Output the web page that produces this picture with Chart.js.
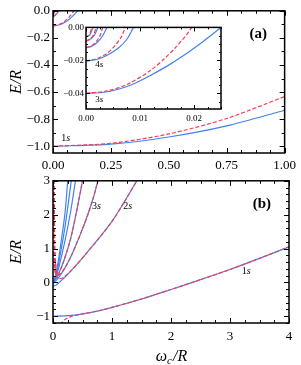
<!DOCTYPE html>
<html>
<head>
<meta charset="utf-8">
<script src="https://cdn.jsdelivr.net/npm/chart.js@4.4.1/dist/chart.umd.min.js"></script>
<style>
  body { margin: 0; background: #fff; }
  canvas { position: absolute; }
</style>
</head>
<body>
<canvas id="top" width="301" height="180" style="left:0;top:0"></canvas>
<canvas id="inset" width="170" height="105" style="left:56px;top:20px"></canvas>
<canvas id="bottom" width="301" height="195" style="left:0;top:170px"></canvas>
<script>
// ---- panel (a): weak field, exact (blue) vs perturbative (red) ----
const a1sW = [0, 0.25, 0.5, 0.75, 1];
const a1sE = [-1, -0.985, -0.932, -0.85, -0.734];
const a1sPE = [-1, -0.978, -0.909, -0.795, -0.633];

const a2sW = [0, 0.025, 0.05, 0.075, 0.1, 0.115];
const a2sE = [-0.111, -0.105, -0.087, -0.056, -0.012, 0.02];
const a2sPW = [0, 0.025, 0.05, 0.07, 0.09, 0.1];
const a2sPE = [-0.111, -0.103, -0.078, -0.046, 0, 0.03];

const a3sW = [0, 0.003, 0.006, 0.009, 0.012, 0.015, 0.018, 0.021, 0.025, 0.027];
const a3sE = [-0.04, -0.0395, -0.0375, -0.034, -0.029, -0.0235, -0.0172, -0.0102, 0, 0.005];
const a3sPW = [0, 0.004, 0.008, 0.012, 0.0145, 0.0165, 0.0185, 0.0196, 0.021];
const a3sPE = [-0.04, -0.0385, -0.034, -0.026, -0.019, -0.0125, -0.005, 0, 0.005];

const a4sW = [0, 0.002, 0.004, 0.006, 0.0075, 0.0088, 0.0095];
const a4sE = [-0.0204, -0.0195, -0.0168, -0.0125, -0.0075, 0, 0.004];
const a4sPW = [0, 0.002, 0.004, 0.0055, 0.0065, 0.0073, 0.008];
const a4sPE = [-0.0204, -0.019, -0.0155, -0.0105, -0.006, 0, 0.005];

const a5sW = [0, 0.001, 0.002, 0.003, 0.0039, 0.0043];
const a5sE = [-0.0123, -0.0115, -0.0093, -0.0055, 0, 0.003];
const a5sPW = [0, 0.001, 0.002, 0.0026, 0.0031, 0.0035];
const a5sPE = [-0.0123, -0.0112, -0.0082, -0.005, 0, 0.004];

const a6sW = [0, 0.001, 0.0016, 0.0022, 0.0025];
const a6sE = [-0.0083, -0.0068, -0.0045, 0, 0.003];
const a6sPW = [0, 0.0008, 0.0014, 0.0019, 0.0022];
const a6sPE = [-0.0083, -0.007, -0.0045, 0, 0.003];

const a7sW = [0, 0.0007, 0.0013, 0.0016];
const a7sE = [-0.0059, -0.0045, 0, 0.003];
const a7sPW = [0, 0.0006, 0.0011, 0.0014];
const a7sPE = [-0.0059, -0.0046, 0, 0.003];

// ---- panel (b): strong field, exact (blue) vs high-field approx (red) ----
const b1sW = [0, 0.25, 0.5, 0.75, 1, 1.5, 2, 2.5, 3, 3.5, 4];
const b1sE = [-1, -0.985, -0.93, -0.85, -0.74, -0.49, -0.21, 0.08, 0.38, 0.71, 1.05];
const b1sPW = [0.12, 0.2, 0.3, 0.4, 0.5, 0.75, 1, 1.5, 2, 2.5, 3, 3.5, 4];
const b1sPE = [-1.25, -1.1, -1.01, -0.97, -0.93, -0.85, -0.74, -0.49, -0.21, 0.08, 0.38, 0.71, 1.05];

const b2sW = [0, 0.05, 0.106, 0.2, 0.3, 0.45, 0.6, 0.8, 1.0, 1.2, 1.42, 1.5];
const b2sE = [-0.111, -0.085, 0, 0.15, 0.33, 0.62, 0.93, 1.35, 1.8, 2.35, 3.0, 3.25];
const b2sPW = [0.04, 0.06, 0.09, 0.15, 0.25, 0.3, 0.45, 0.6, 0.8, 1.0, 1.2, 1.42, 1.5];
const b2sPE = [0.6, 0.22, 0.12, 0.12, 0.25, 0.33, 0.62, 0.93, 1.35, 1.8, 2.35, 3.0, 3.25];

const b3sW = [0, 0.025, 0.1, 0.2, 0.3, 0.4, 0.5, 0.6, 0.7, 0.76, 0.8];
const b3sE = [-0.04, 0, 0.15, 0.42, 0.75, 1.15, 1.58, 2.05, 2.6, 3.0, 3.25];
const b3sPW = [0.02, 0.03, 0.05, 0.08, 0.12, 0.2, 0.3, 0.4, 0.5, 0.6, 0.7, 0.76, 0.8];
const b3sPE = [3.2, 1.2, 0.45, 0.2, 0.25, 0.42, 0.75, 1.15, 1.58, 2.05, 2.6, 3.0, 3.25];

const b4sW = [0, 0.009, 0.05, 0.1, 0.2, 0.3, 0.4, 0.5, 0.53];
const b4sE = [-0.02, 0, 0.1, 0.27, 0.72, 1.3, 2.1, 3.0, 3.3];
const b4sPW = [0.012, 0.02, 0.035, 0.06, 0.1, 0.2, 0.3, 0.4, 0.5, 0.53];
const b4sPE = [3.2, 1.2, 0.45, 0.22, 0.27, 0.72, 1.3, 2.1, 3.0, 3.3];

const b5sW = [0, 0.004, 0.05, 0.1, 0.2, 0.3, 0.38, 0.4];
const b5sE = [-0.012, 0, 0.15, 0.45, 1.2, 2.1, 3.0, 3.2];
const b5sPW = [0.008, 0.015, 0.03, 0.05];
const b5sPE = [3.2, 1.0, 0.35, 0.2];

const b6sW = [0, 0.0022, 0.05, 0.1, 0.2, 0.31, 0.33];
const b6sE = [-0.008, 0, 0.2, 0.6, 1.6, 3.0, 3.25];

const b7sW = [0, 0.0013, 0.05, 0.1, 0.2, 0.25, 0.27];
const b7sE = [-0.006, 0, 0.25, 0.75, 2.0, 3.0, 3.4];

// tick labels
const aXTicks = [0, 0.25, 0.5, 0.75, 1];
const aYTicks = [-1, -0.8, -0.6, -0.4, -0.2, 0];
const inXTicks = [0, 0.01, 0.02];
const inYTicks = [-0.04, -0.02, 0];
const bXTicks = [0, 1, 2, 3, 4];
const bYTicks = [-1, 0, 1, 2, 3];

const blue = '#4282ec';
const red = '#f23c58';
const serif = "'Liberation Serif', 'DejaVu Serif', serif";

function pts(w, e) {
  return w.map(function (x, i) { return {x: x, y: e[i]}; });
}
function exact(w, e) {
  return {data: pts(w, e), borderColor: blue, borderWidth: 1.2, pointRadius: 0, tension: 0.3, fill: false};
}
function approx(w, e) {
  return {data: pts(w, e), borderColor: red, borderWidth: 1.2, borderDash: [4, 2], pointRadius: 0, tension: 0.3, fill: false};
}
function minus(s) { return s.replace('-', '\u2212'); }

// weak field curves, reused by the main panel and the inset
// (first dataset is drawn on top, so the red ones go first)
function weakSets() {
  return [
    approx(a1sW, a1sPE), approx(a2sPW, a2sPE), approx(a3sPW, a3sPE), approx(a4sPW, a4sPE),
    approx(a5sPW, a5sPE), approx(a6sPW, a6sPE), approx(a7sPW, a7sPE),
    exact(a1sW, a1sE), exact(a2sW, a2sE), exact(a3sW, a3sE), exact(a4sW, a4sE),
    exact(a5sW, a5sE), exact(a6sW, a6sE), exact(a7sW, a7sE)
  ];
}

// box with inward major / minor ticks on all four sides, plus text labels
const frame = {
  id: 'frame',
  beforeDatasetsDraw(chart, args, o) {
    if (!o.white) return;
    const a = chart.chartArea;
    chart.ctx.save();
    chart.ctx.fillStyle = '#fff';
    chart.ctx.fillRect(a.left, a.top, a.right - a.left, a.bottom - a.top);
    chart.ctx.restore();
  },
  afterDatasetsDraw(chart, args, o) {
    const ctx = chart.ctx, a = chart.chartArea;
    const sx = chart.scales.x, sy = chart.scales.y;
    ctx.save();
    ctx.strokeStyle = '#000';
    ctx.lineWidth = 1;
    ctx.beginPath();
    function tickX(v, len) {
      const p = Math.round(sx.getPixelForValue(v)) + 0.5;
      ctx.moveTo(p, a.bottom); ctx.lineTo(p, a.bottom - len);
      ctx.moveTo(p, a.top); ctx.lineTo(p, a.top + len);
    }
    function tickY(v, len) {
      const p = Math.round(sy.getPixelForValue(v)) + 0.5;
      ctx.moveTo(a.left, p); ctx.lineTo(a.left + len, p);
      ctx.moveTo(a.right, p); ctx.lineTo(a.right - len, p);
    }
    for (let v = sx.min; v <= sx.max + 1e-9; v += o.xMinor) tickX(v, o.minor);
    for (let v = o.yStart; v <= sy.max + 1e-9; v += o.yMinor) tickY(v, o.minor);
    sx.ticks.forEach(function (t) { tickX(t.value, o.major); });
    sy.ticks.forEach(function (t) { tickY(t.value, o.major); });
    ctx.stroke();
    ctx.lineWidth = 1.5;
    ctx.strokeRect(a.left, a.top, a.right - a.left, a.bottom - a.top);

    // state labels like "1s"
    ctx.fillStyle = '#000';
    ctx.textBaseline = 'middle';
    (o.notes || []).forEach(function (n) {
      const x = sx.getPixelForValue(n.x), y = sy.getPixelForValue(n.y);
      ctx.font = n.size + 'px ' + serif;
      ctx.fillText(n.num, x, y);
      const w = ctx.measureText(n.num).width;
      ctx.font = 'italic ' + n.size + 'px ' + serif;
      ctx.fillText('s', x + w, y);
    });
    if (o.tag) {
      ctx.font = 'bold 15px ' + serif;
      ctx.textAlign = 'center';
      ctx.fillText(o.tag.text, sx.getPixelForValue(o.tag.x), sy.getPixelForValue(o.tag.y));
    }
    ctx.restore();
  },
  afterDraw(chart, args, o) {
    const ctx = chart.ctx, a = chart.chartArea;
    ctx.save();
    ctx.fillStyle = '#000';
    ctx.textBaseline = 'middle';
    ctx.textAlign = 'center';
    if (o.yTitle) {
      ctx.translate(17, (a.top + a.bottom) / 2);
      ctx.rotate(-Math.PI / 2);
      ctx.font = 'italic 16px ' + serif;
      ctx.fillText('E/R', 0, 0);
      ctx.setTransform(1, 0, 0, 1, 0, 0);
    }
    if (o.xTitle) {
      // omega with subscript c, over R
      const y = o.xTitle;
      const cx = (a.left + a.right) / 2;
      ctx.textAlign = 'left';
      ctx.font = 'italic 16px ' + serif;
      const w1 = ctx.measureText('\u03c9').width;
      ctx.font = 'italic 11px ' + serif;
      const w2 = ctx.measureText('c').width;
      ctx.font = 'italic 16px ' + serif;
      const w3 = ctx.measureText('/R').width;
      let x = cx - (w1 + w2 + w3) / 2;
      ctx.fillText('\u03c9', x, y);
      ctx.font = 'italic 11px ' + serif;
      ctx.fillText('c', x + w1, y + 4);
      ctx.font = 'italic 16px ' + serif;
      ctx.fillText('/R', x + w1 + w2 + 1, y);
    }
    ctx.restore();
  }
};

function scales(xr, yr, xt, yt, xfmt, yfmt, xh, yw, font, xpad, ypad) {
  return {
    x: {
      type: 'linear', min: xr[0], max: xr[1],
      grid: {display: false, drawTicks: false}, border: {display: false},
      afterBuildTicks: function (s) { s.ticks = xt.map(function (v) { return {value: v}; }); },
      afterFit: function (s) { s.height = xh; },
      ticks: {color: '#000', font: {family: serif, size: font}, padding: xpad, autoSkip: false, maxRotation: 0,
        callback: function (v) { return minus(xfmt(v)); }}
    },
    y: {
      type: 'linear', min: yr[0], max: yr[1],
      grid: {display: false, drawTicks: false}, border: {display: false},
      afterBuildTicks: function (s) { s.ticks = yt.map(function (v) { return {value: v}; }); },
      afterFit: function (s) { s.width = yw; },
      ticks: {color: '#000', font: {family: serif, size: font}, padding: ypad, autoSkip: false,
        callback: function (v) { return minus(yfmt(v)); }}
    }
  };
}

Chart.defaults.animation = false;

new Chart(document.getElementById('top'), {
  type: 'line',
  data: {datasets: weakSets()},
  plugins: [frame],
  options: {
    responsive: false,
    layout: {padding: {top: 7, right: 12, left: 0, bottom: 0}},
    plugins: {
      legend: {display: false}, tooltip: {enabled: false},
      frame: {xMinor: 0.0625, yMinor: 0.1, yStart: -1, major: 5, minor: 3, yTitle: true,
        notes: [{num: '1', x: 0.036, y: -0.943, size: 10}],
        tag: {text: '(a)', x: 0.886, y: -0.173}}
    },
    scales: scales([0, 1], [-1.05, 0], aXTicks, aYTicks,
      function (v) { return v.toFixed(2); }, function (v) { return v.toFixed(1); }, 27, 53, 13, 5, 3)
  }
});

new Chart(document.getElementById('inset'), {
  type: 'line',
  data: {datasets: weakSets()},
  plugins: [frame],
  options: {
    responsive: false,
    layout: {padding: {top: 5, right: 5, left: 0, bottom: 0}},
    plugins: {
      legend: {display: false}, tooltip: {enabled: false},
      frame: {white: true, xMinor: 0.0025, yMinor: 0.005, yStart: -0.045, major: 4, minor: 2,
        notes: [{num: '4', x: 0.0017, y: -0.0224, size: 9}, {num: '3', x: 0.0017, y: -0.0436, size: 9}]}
    },
    scales: scales([0, 0.025], [-0.0495, 0], inXTicks, inYTicks,
      function (v) { return v.toFixed(2); }, function (v) { return v.toFixed(2); }, 16, 30, 9, 4, 2)
  }
});

new Chart(document.getElementById('bottom'), {
  type: 'line',
  data: {datasets: [
    approx(b1sPW, b1sPE), approx(b2sPW, b2sPE), approx(b3sPW, b3sPE), approx(b4sPW, b4sPE), approx(b5sPW, b5sPE),
    exact(b1sW, b1sE), exact(b2sW, b2sE), exact(b3sW, b3sE), exact(b4sW, b4sE),
    exact(b5sW, b5sE), exact(b6sW, b6sE), exact(b7sW, b7sE)
  ]},
  plugins: [frame],
  options: {
    responsive: false,
    layout: {padding: {top: 7, right: 12, left: 0, bottom: 0}},
    plugins: {
      legend: {display: false}, tooltip: {enabled: false},
      frame: {xMinor: 0.25, yMinor: 0.2, yStart: -1.2, major: 5, minor: 3, yTitle: true, xTitle: 187,
        notes: [{num: '3', x: 0.66, y: 2.25, size: 10}, {num: '2', x: 1.19, y: 2.25, size: 10},
                {num: '1', x: 3.2, y: 0.32, size: 10}],
        tag: {text: '(b)', x: 3.54, y: 2.31}}
    },
    scales: scales([0, 4], [-1.2, 3], bXTicks, bYTicks,
      function (v) { return v.toFixed(0); }, function (v) { return v.toFixed(0); }, 42, 53, 13, 6, 3)
  }
});
</script>
</body>
</html>
